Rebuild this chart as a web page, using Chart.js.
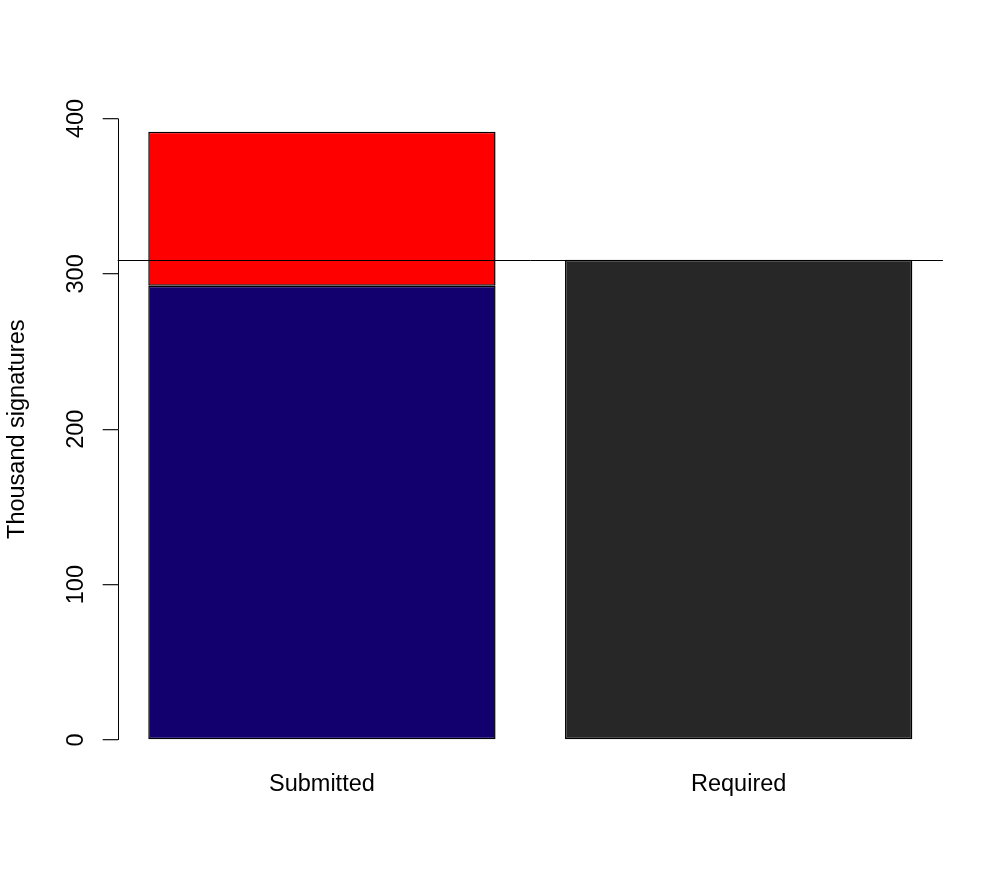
<!DOCTYPE html>
<html>
<head>
<meta charset="utf-8">
<script src="https://cdn.jsdelivr.net/npm/chart.js@4/dist/chart.umd.min.js"></script>
<style>
  html, body { margin: 0; padding: 0; background: #ffffff; }
  #wrap { width: 1004px; height: 887px; position: relative; }
</style>
</head>
<body>
<div id="wrap"><canvas id="c"></canvas></div>
<script>
// ---- data ----
const categories = ['Submitted', 'Required'];
const barPositions = [0.7, 1.9];            // R barplot bar centres (width 1, space 0.2)
const validSignatures = [292.4, null];
const extraSignatures = [99.1, null];
const requiredSignatures = [null, 309];
const requiredLine = 309;
const yTicks = [0, 100, 200, 300, 400];
const yTitle = 'Thousand signatures';

const FONT = { family: "'Liberation Sans', Arial, Helvetica, sans-serif", size: 23.5 };

function pts(vals) {
  return vals.map((v, i) => ({ x: barPositions[i], y: v })).filter(p => p.y !== null);
}

const refLine = {
  id: 'refLine',
  afterDatasetsDraw(chart) {
    const { ctx, chartArea, scales } = chart;
    const y = Math.round(scales.y.getPixelForValue(requiredLine)) + 0.5;
    ctx.save();
    ctx.strokeStyle = '#000';
    ctx.lineWidth = 1;
    ctx.beginPath();
    ctx.moveTo(chartArea.left, y);
    ctx.lineTo(chartArea.right, y);
    ctx.stroke();
    // y axis line from first to last tick
    const x = Math.round(chartArea.left) + 0.5;
    ctx.beginPath();
    ctx.moveTo(x, scales.y.getPixelForValue(yTicks[0]));
    ctx.lineTo(x, scales.y.getPixelForValue(yTicks[yTicks.length - 1]));
    ctx.stroke();
    ctx.restore();
  }
};

new Chart(document.getElementById('c'), {
  type: 'bar',
  data: {
    datasets: [
      { label: 'valid', data: pts(validSignatures), backgroundColor: '#12006F', borderColor: '#000', borderWidth: 1.5, borderSkipped: false },
      { label: 'extra', data: pts(extraSignatures), backgroundColor: '#FF0000', borderColor: '#000', borderWidth: 1.5, borderSkipped: false },
      { label: 'required', data: pts(requiredSignatures), backgroundColor: '#272727', borderColor: '#000', borderWidth: 1.5, borderSkipped: false }
    ]
  },
  options: {
    responsive: true,
    maintainAspectRatio: false,
    animation: false,
    categoryPercentage: 1,
    barPercentage: 1 / 1.2,
    layout: { padding: { left: 0, right: 61.1, top: 93.6, bottom: 0 } },
    plugins: { legend: { display: false }, tooltip: { enabled: false } },
    scales: {
      x: {
        type: 'linear',
        stacked: true,
        offset: false,
        min: 0.112,
        max: 2.488,
        afterBuildTicks: (axis) => { axis.ticks = barPositions.map(v => ({ value: v })); },
        afterFit: (axis) => { axis.height = 122.14; },
        grid: { display: false, drawTicks: false },
        border: { display: false },
        ticks: {
          autoSkip: false,
          maxRotation: 0,
          minRotation: 0,
          padding: 6,
          color: '#000',
          font: FONT,
          callback: (v, i) => categories[i]
        }
      },
      y: {
        type: 'linear',
        stacked: true,
        min: -16,
        max: 416,
        afterBuildTicks: (axis) => { axis.ticks = yTicks.map(v => ({ value: v })); },
        afterFit: (axis) => { axis.width = 117.7; },
        grid: { drawOnChartArea: false, drawTicks: true, tickLength: 15, color: '#222', lineWidth: 1.3 },
        border: { display: false },
        ticks: {
          minRotation: 90,
          maxRotation: 90,
          crossAlign: 'center',
          padding: 7,
          color: '#000',
          font: FONT
        },
        title: {
          display: true,
          text: yTitle,
          color: '#000',
          font: FONT,
          padding: { top: 3, bottom: 0 }
        }
      }
    }
  },
  plugins: [refLine]
});
</script>
</body>
</html>
